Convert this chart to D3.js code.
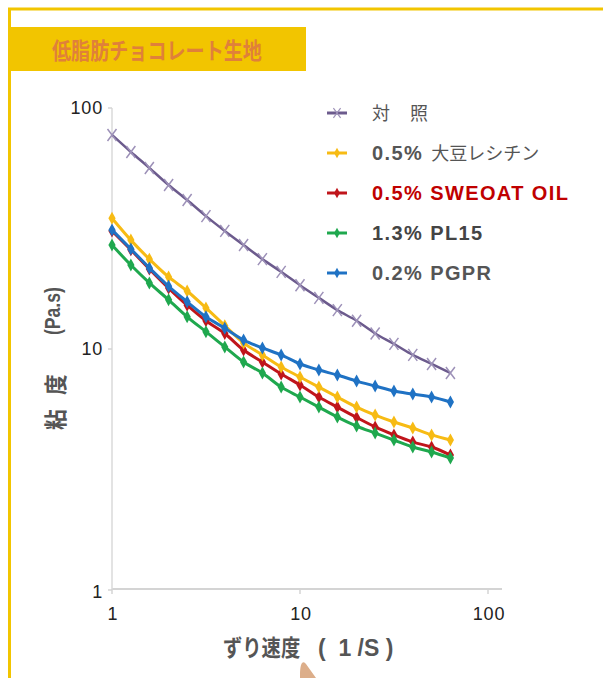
<!DOCTYPE html>
<html>
<head>
<meta charset="utf-8">
<script src="https://cdn.jsdelivr.net/npm/d3@7"></script>
<style>
  body { margin: 0; background: #fff; }
  svg { display: block; }
</style>
</head>
<body>
<div id="chart"></div>
<script>
// shear rate (1/S), 10 points per decade
const shearRate = [1, 1.26, 1.58, 2, 2.51, 3.16, 3.98, 5.01, 6.31, 7.94, 10, 12.6, 15.8, 20, 25.1, 31.6, 39.8, 50.1, 63.1];

// viscosity (Pa.s)
const control  = [77.3, 65.7, 56.4, 47.9, 41.5, 35.6, 30.9, 27.0, 23.6, 20.9, 18.4, 16.3, 14.5, 13.1, 11.6, 10.5, 9.45, 8.67, 7.95];
const soyLecithin = [34.9, 28.3, 23.6, 19.9, 17.4, 14.8, 12.5, 10.6, 9.45, 8.42, 7.65, 6.95, 6.32, 5.74, 5.32, 4.98, 4.70, 4.40, 4.19];
const sweoatOil = [30.9, 25.8, 21.5, 17.9, 15.2, 13.1, 11.6, 9.9, 8.83, 7.88, 7.09, 6.32, 5.74, 5.20, 4.75, 4.40, 4.11, 3.92, 3.63];
const pl15     = [27.0, 22.3, 18.8, 16.0, 13.6, 11.8, 10.2, 8.83, 7.95, 6.95, 6.32, 5.74, 5.22, 4.79, 4.48, 4.19, 3.92, 3.74, 3.53];
const pgpr     = [31.2, 26.0, 21.7, 18.2, 15.7, 13.6, 12.2, 10.9, 10.1, 9.45, 8.67, 8.18, 7.80, 7.36, 7.02, 6.69, 6.50, 6.32, 6.03];

const xTicks = [1, 10, 100];
const yTicks = [1, 10, 100];

const title = "低脂肪チョコレート生地";

const width = 603, height = 678;
const latin = "'Liberation Sans', Arial, sans-serif";
const jp = "'Noto Sans CJK JP', 'Liberation Sans', sans-serif";

const svg = d3.select("#chart")
  .append("svg")
    .attr("width", width)
    .attr("height", height);

// frame
svg.append("line").attr("x1", 8).attr("x2", width).attr("y1", 9).attr("y2", 9)
  .attr("stroke", "#f2c500").attr("stroke-width", 3);
svg.append("line").attr("x1", 9.5).attr("x2", 9.5).attr("y1", 8).attr("y2", height)
  .attr("stroke", "#f2c500").attr("stroke-width", 3);

// title box
svg.append("rect").attr("x", 9).attr("y", 27).attr("width", 297).attr("height", 44)
  .attr("fill", "#f2c500");
svg.append("text")
  .attr("transform", "translate(52,59) scale(0.83,1)")
  .style("font-family", jp)
  .style("font-size", "23px")
  .style("font-weight", "bold")
  .attr("fill", "#e0803a")
  .text(title);

// scales
const x = d3.scaleLog().domain([1, 100]).range([112, 488]);
const y = d3.scaleLog().domain([1, 100]).range([590, 108]);

// axes lines
svg.append("line")
  .attr("x1", x(1)).attr("x2", x(100) + 14)
  .attr("y1", y(1) - 1).attr("y2", y(1) - 1)
  .attr("stroke", "#d4d4d4").attr("stroke-width", 2);
svg.append("line")
  .attr("x1", x(1)).attr("x2", x(1))
  .attr("y1", y(100)).attr("y2", y(1))
  .attr("stroke", "#dadada").attr("stroke-width", 1.5);

// ticks
svg.selectAll(".xt").data(xTicks).enter().append("line")
  .attr("x1", d => x(d)).attr("x2", d => x(d))
  .attr("y1", y(1) - 1).attr("y2", y(1) + 4)
  .attr("stroke", "#d4d4d4").attr("stroke-width", 1.5);
svg.selectAll(".yt").data(yTicks).enter().append("line")
  .attr("x1", x(1) - 4).attr("x2", x(1))
  .attr("y1", d => y(d)).attr("y2", d => y(d))
  .attr("stroke", "#d4d4d4").attr("stroke-width", 1.5);

svg.selectAll(".xl").data(xTicks).enter().append("text")
  .attr("x", d => x(d) + 1).attr("y", y(1) + 30)
  .attr("text-anchor", "middle")
  .style("font-family", latin).style("font-size", "18px")
  .style("letter-spacing", "0.8px")
  .attr("fill", "#222")
  .text(d => d);
svg.selectAll(".yl").data(yTicks).enter().append("text")
  .attr("x", x(1) - 9).attr("y", d => y(d) + (d === 1 ? 8 : 6))
  .attr("text-anchor", "end")
  .style("font-family", latin).style("font-size", "18px")
  .style("letter-spacing", "0.8px")
  .attr("fill", "#222")
  .text(d => d);

// axis titles
svg.append("text")
  .attr("transform", "translate(223,656) scale(0.84,1)")
  .attr("fill", "#555")
  .style("font-family", jp)
  .style("font-size", "23px")
  .style("font-weight", "bold")
  .text("ずり速度");
svg.append("text")
  .attr("x", 318).attr("y", 656)
  .attr("fill", "#555")
  .style("font-family", latin)
  .style("font-size", "23px")
  .style("font-weight", "bold")
  .text("(\u00a0 1 /S )");

const yLabel = svg.append("g").attr("transform", "translate(64,430) rotate(-90)");
yLabel.append("text")
  .attr("transform", "scale(0.9,1)")
  .attr("fill", "#555")
  .style("font-family", jp)
  .style("font-size", "23px")
  .style("font-weight", "bold")
  .text("粘");
yLabel.append("text")
  .attr("transform", "translate(35,0) scale(0.9,1)")
  .attr("fill", "#555")
  .style("font-family", jp)
  .style("font-size", "23px")
  .style("font-weight", "bold")
  .text("度");
yLabel.append("text")
  .attr("transform", "translate(95,-4) scale(0.8,1)")
  .attr("fill", "#555")
  .style("font-family", latin)
  .style("font-size", "22px")
  .style("font-weight", "bold")
  .text("(Pa.s)");

// series
const series = [
  { name: "control", values: control, color: "#6c5b8d", marker: "x" },
  { name: "sweoat", values: sweoatOil, color: "#c0151b", marker: "d" },
  { name: "pl15", values: pl15, color: "#1fa84e", marker: "d" },
  { name: "soy", values: soyLecithin, color: "#f7bb14", marker: "d" },
  { name: "pgpr", values: pgpr, color: "#1f72c4", marker: "d" }
];

const line = d3.line()
  .x(d => x(d[0]))
  .y(d => y(d[1]))
  .curve(d3.curveMonotoneX);

const diamond = "M0,-6.5L3.6,0L0,6.5L-3.6,0Z";
const cross = "M-4.5,-6L4.5,6M-4.5,6L4.5,-6";

series.forEach(s => {
  const pts = shearRate.map((r, i) => [r, s.values[i]]);
  svg.append("path")
    .datum(pts)
    .attr("fill", "none")
    .attr("stroke", s.color)
    .attr("stroke-width", s.marker === "x" ? 2.5 : 3)
    .attr("d", line);
  const m = svg.append("g");
  m.selectAll("path")
    .data(pts)
    .enter()
    .append("path")
      .attr("transform", d => `translate(${x(d[0])},${y(d[1])})`)
      .attr("d", s.marker === "x" ? cross : diamond)
      .attr("fill", s.marker === "x" ? "none" : s.color)
      .attr("stroke", s.marker === "x" ? "#9d91b8" : "none")
      .attr("stroke-width", 1.5);
});

// legend
const legend = [
  { color: "#6c5b8d", marker: "x", parts: [["対", jp, "normal", 0], ["照", jp, "normal", 20]], fill: "#555" },
  { color: "#f7bb14", marker: "d", parts: [["0.5%", latin, "bold", 0], ["大豆レシチン", jp, "normal", 8]], fill: "#555" },
  { color: "#c0151b", marker: "d", parts: [["0.5% SWEOAT OIL", latin, "bold", 0]], fill: "#c00000" },
  { color: "#1fa84e", marker: "d", parts: [["1.3% PL15", latin, "bold", 0]], fill: "#444" },
  { color: "#1f72c4", marker: "d", parts: [["0.2% PGPR", latin, "bold", 0]], fill: "#555" }
];

const lg = svg.append("g").attr("transform", "translate(327,113)");
legend.forEach((l, i) => {
  const row = lg.append("g").attr("transform", `translate(0,${i * 40})`);
  row.append("line").attr("x1", 0).attr("x2", 20).attr("y1", 0).attr("y2", 0)
    .attr("stroke", l.color).attr("stroke-width", 3);
  row.append("path")
    .attr("transform", "translate(10,0) scale(0.8)")
    .attr("d", l.marker === "x" ? cross : diamond)
    .attr("fill", l.marker === "x" ? "none" : l.color)
    .attr("stroke", l.marker === "x" ? "#9d91b8" : "none")
    .attr("stroke-width", 1.5);
  const t = row.append("text").attr("x", 45).attr("y", 7)
    .attr("fill", l.fill);
  l.parts.forEach(p => {
    t.append("tspan")
      .attr("dx", p[3])
      .style("font-family", p[1])
      .style("font-weight", p[2])
      .style("font-size", p[1] === jp ? "18px" : "20px")
      .style("letter-spacing", p[1] === jp ? "0px" : "1.4px")
      .text(p[0]);
  });
});

// decoration at bottom
svg.append("path")
  .attr("d", "M300,678 C300,672 300,666 302,663 Q304,661 306,664 L316,678 Z")
  .attr("fill", "#dcae8a");
</script>
</body>
</html>
